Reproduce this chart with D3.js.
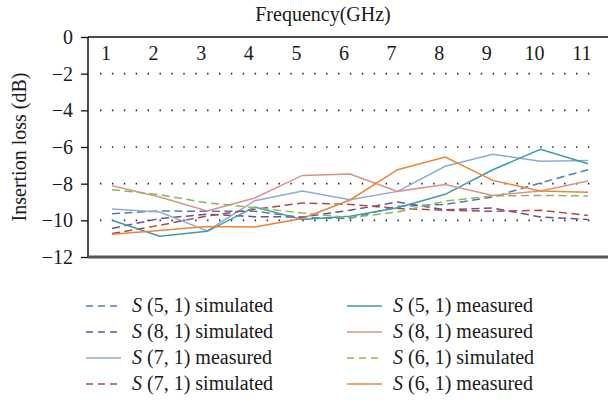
<!DOCTYPE html>
<html>
<head>
<meta charset="utf-8">
<script src="https://cdn.jsdelivr.net/npm/d3@7"></script>
<style>
  html, body { margin: 0; padding: 0; background: #fff; }
  svg { display: block; }
  text { font-family: "Liberation Serif", "Times New Roman", "DejaVu Serif", serif; fill: #1a1a1a; }
</style>
</head>
<body>
<svg id="chart" width="609" height="402"></svg>
<script>
// Frequency points (GHz)
const frequencies = [1, 2, 3, 4, 5, 6, 7, 8, 9, 10, 11];
const yTicks = [0, -2, -4, -6, -8, -10, -12];

// Insertion loss (dB) per port pair
const s51Simulated = [-9.64, -9.49, -9.51, -9.50, -9.85, -9.90, -9.24, -9.13, -8.73, -7.96, -7.24];
const s81Simulated = [-10.44, -9.90, -9.67, -9.80, -9.82, -9.45, -9.00, -9.42, -9.33, -9.82, -9.95];
const s71Measured  = [-9.38, -9.55, -10.58, -8.93, -8.40, -8.87, -8.42, -7.05, -6.40, -6.78, -6.73];
const s71Simulated = [-10.72, -10.27, -9.76, -9.40, -9.05, -9.13, -9.35, -9.45, -9.51, -9.45, -9.73];
const s51Measured  = [-10.00, -10.87, -10.60, -9.27, -9.96, -9.78, -9.31, -8.58, -7.24, -6.13, -6.91];
const s81Measured  = [-8.11, -8.73, -9.49, -8.78, -7.55, -7.47, -8.42, -8.04, -8.64, -8.40, -7.85];
const s61Simulated = [-8.33, -8.60, -9.05, -9.31, -9.60, -9.85, -9.55, -8.95, -8.67, -8.64, -8.67];
const s61Measured  = [-10.76, -10.55, -10.33, -10.36, -9.90, -8.89, -7.24, -6.55, -7.82, -8.40, -8.47];

// Legend order: left column top to bottom, then right column
const series = [
  { port: "(5, 1)", kind: "simulated", values: s51Simulated, color: "#4f7db8", dashed: true },
  { port: "(8, 1)", kind: "simulated", values: s81Simulated, color: "#6b509c", dashed: true },
  { port: "(7, 1)", kind: "measured",  values: s71Measured,  color: "#8eaad8", dashed: false },
  { port: "(7, 1)", kind: "simulated", values: s71Simulated, color: "#b04848", dashed: true },
  { port: "(5, 1)", kind: "measured",  values: s51Measured,  color: "#3b9bb2", dashed: false },
  { port: "(8, 1)", kind: "measured",  values: s81Measured,  color: "#d9928f", dashed: false },
  { port: "(6, 1)", kind: "simulated", values: s61Simulated, color: "#8db74e", dashed: true },
  { port: "(6, 1)", kind: "measured",  values: s61Measured,  color: "#ea8638", dashed: false }
];

const serif = '"Liberation Serif", "Times New Roman", "DejaVu Serif", serif';
const svg = d3.select("#chart");
const plotLeft = 88, plotTop = 37, plotBottom = 257, plotRight = 608;

const x = d3.scalePoint().domain(frequencies).range([112, 588]);
const y = d3.scaleLinear().domain([-12, 0]).range([plotBottom, plotTop]);

// Dotted horizontal gridlines
svg.append("g")
  .selectAll("line")
  .data(yTicks.filter(d => d !== 0 && d !== -12))
  .join("line")
  .attr("x1", 100).attr("x2", 598)
  .attr("y1", d => y(d)).attr("y2", d => y(d))
  .attr("stroke", "#222")
  .attr("stroke-width", 1.6)
  .attr("stroke-dasharray", "1.4,10.5");

// Y axis (ticks point outward to the left)
const yAxis = svg.append("g")
  .attr("transform", `translate(${plotLeft},0)`)
  .call(d3.axisLeft(y).tickValues(yTicks).tickSize(7).tickPadding(8))
  .attr("font-family", serif)
  .attr("font-size", 20);
yAxis.select(".domain").remove();
yAxis.selectAll(".tick line").attr("stroke", "#111").attr("stroke-width", 1.3);
yAxis.selectAll(".tick text").attr("fill", "#1a1a1a");

// Frame lines
svg.append("line").attr("x1", plotLeft).attr("x2", plotLeft).attr("y1", plotTop).attr("y2", plotBottom)
  .attr("stroke", "#111").attr("stroke-width", 1.5);
svg.append("line").attr("x1", plotLeft).attr("x2", plotRight).attr("y1", plotTop).attr("y2", plotTop)
  .attr("stroke", "#111").attr("stroke-width", 1.5);
svg.append("line").attr("x1", plotLeft).attr("x2", plotRight).attr("y1", plotBottom).attr("y2", plotBottom)
  .attr("stroke", "#555").attr("stroke-width", 3);

// Frequency labels along the top, inside the frame
svg.append("g")
  .selectAll("text")
  .data(frequencies)
  .join("text")
  .attr("x", d => x(d) - 6)
  .attr("y", 60)
  .attr("text-anchor", "middle")
  .style("font-size", "20px")
  .text(d => d);

// Axis titles
svg.append("text")
  .attr("x", 323).attr("y", 21)
  .attr("text-anchor", "middle")
  .style("font-size", "20px")
  .text("Frequency(GHz)");

svg.append("text")
  .attr("transform", `translate(26,${(plotTop + plotBottom) / 2}) rotate(-90)`)
  .attr("text-anchor", "middle")
  .style("font-size", "20px")
  .text("Insertion loss (dB)");

// Series lines
const line = d3.line()
  .x((d, i) => x(frequencies[i]))
  .y(d => y(d));

svg.append("g")
  .selectAll("path")
  .data(series)
  .join("path")
  .attr("d", d => line(d.values))
  .attr("fill", "none")
  .attr("stroke", d => d.color)
  .attr("stroke-width", 1.5)
  .attr("stroke-dasharray", d => d.dashed ? "8,4.5" : null);

// Legend: two columns of four entries
const legend = svg.append("g");
const rowY = [306, 332, 358, 384];
const entries = legend.selectAll("g")
  .data(series)
  .join("g")
  .attr("transform", (d, i) => `translate(${i < 4 ? 86 : 347},${rowY[i % 4]})`);

entries.append("line")
  .attr("x1", 0).attr("x2", 35)
  .attr("y1", 0).attr("y2", 0)
  .attr("stroke", d => d.color)
  .attr("stroke-width", 1.5)
  .attr("stroke-dasharray", d => d.dashed ? "7,5" : null);

const labels = entries.append("text")
  .attr("x", 46)
  .attr("y", 6)
  .style("font-size", "20px");
labels.append("tspan").style("font-style", "italic").text("S");
labels.append("tspan").text(d => ` ${d.port} ${d.kind}`);
</script>
</body>
</html>
